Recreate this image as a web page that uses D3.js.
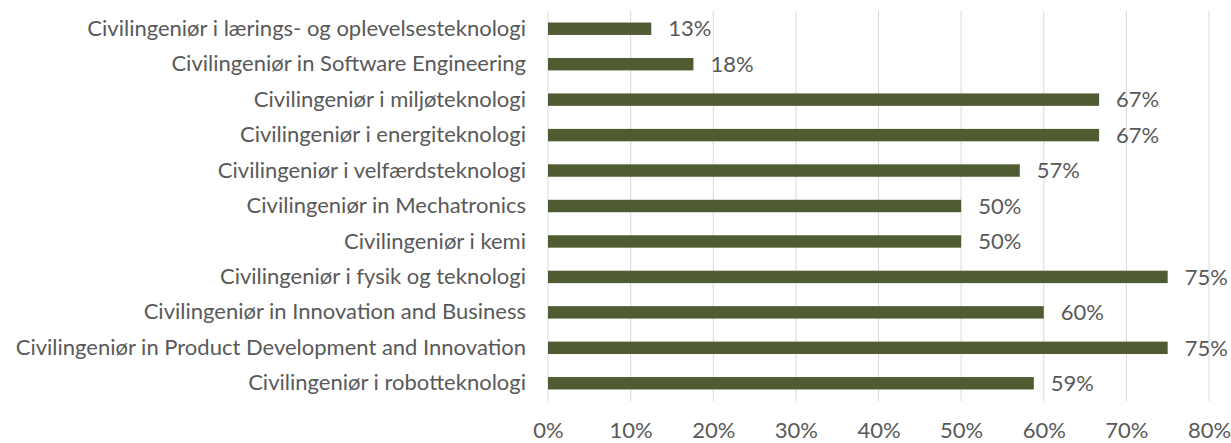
<!DOCTYPE html>
<html>
<head>
<meta charset="utf-8">
<script src="https://cdn.jsdelivr.net/npm/d3@7"></script>
<style>
  body { margin: 0; background: #fff; }
  text { font-family: Lato, "Open Sans", sans-serif; fill: #595959; }
</style>
</head>
<body>
<div id="chart"></div>
<script>
const programmes = [
  "Civilingeniør i lærings- og oplevelsesteknologi",
  "Civilingeniør in Software Engineering",
  "Civilingeniør i miljøteknologi",
  "Civilingeniør i energiteknologi",
  "Civilingeniør i velfærdsteknologi",
  "Civilingeniør in Mechatronics",
  "Civilingeniør i kemi",
  "Civilingeniør i fysik og teknologi",
  "Civilingeniør in Innovation and Business",
  "Civilingeniør in Product Development and Innovation",
  "Civilingeniør i robotteknologi"
];
const shares = [12.5, 17.6, 66.7, 66.7, 57.1, 50, 50, 75, 60, 75, 58.8];
const xTicks = [0, 10, 20, 30, 40, 50, 60, 70, 80];

const width = 1231, height = 443;
const margin = { top: 11, right: 22, bottom: 42, left: 548 };
const fontSize = "22px";

const svg = d3.select("#chart").append("svg")
  .attr("width", width)
  .attr("height", height);

const x = d3.scaleLinear()
  .domain([0, 80])
  .range([margin.left, width - margin.right]);

const y = d3.scaleBand()
  .domain(programmes)
  .range([margin.top, height - margin.bottom])
  .paddingInner(0.65)
  .paddingOuter(0.325);

// vertical gridlines
svg.append("g")
  .selectAll("line")
  .data(xTicks)
  .join("line")
  .attr("x1", d => x(d))
  .attr("x2", d => x(d))
  .attr("y1", margin.top)
  .attr("y2", height - margin.bottom)
  .attr("stroke", "#d9d9d9")
  .attr("stroke-width", 1);

// x axis labels
const xAxis = d3.axisBottom(x)
  .tickValues(xTicks)
  .tickFormat(d => d + "%")
  .tickSize(0)
  .tickPadding(0);

const gx = svg.append("g")
  .attr("transform", `translate(0,${height - margin.bottom + 29})`)
  .call(xAxis);
gx.select(".domain").remove();
gx.selectAll("text")
  .attr("dy", "0.35em")
  .attr("y", 0)
  .style("font-size", fontSize)
  .attr("fill", "#595959");

// category labels
const yAxis = d3.axisLeft(y).tickSize(0).tickPadding(22);
const gy = svg.append("g")
  .attr("transform", `translate(${margin.left},0)`)
  .call(yAxis);
gy.select(".domain").remove();
gy.selectAll("text")
  .style("font-size", fontSize)
  .attr("fill", "#595959");

// bars
svg.append("g")
  .selectAll("rect")
  .data(programmes)
  .join("rect")
  .attr("x", x(0))
  .attr("y", d => y(d))
  .attr("width", (d, i) => x(shares[i]) - x(0))
  .attr("height", y.bandwidth())
  .attr("fill", "#4f5b31");

// value labels
svg.append("g")
  .selectAll("text")
  .data(programmes)
  .join("text")
  .attr("x", (d, i) => x(shares[i]) + 17)
  .attr("y", d => y(d) + y.bandwidth() / 2)
  .attr("dy", "0.35em")
  .style("font-size", fontSize)
  .attr("fill", "#404040")
  .text((d, i) => Math.round(shares[i]) + "%");
</script>
</body>
</html>
